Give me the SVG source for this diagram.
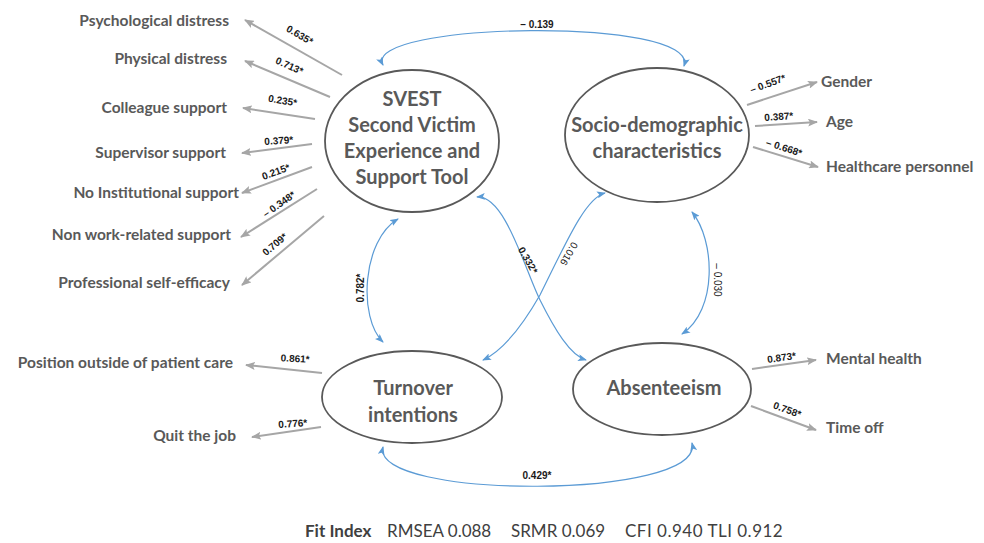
<svg xmlns="http://www.w3.org/2000/svg" width="984" height="543" viewBox="0 0 984 543">
<style>
.bg{fill:#ffffff}
.el{fill:#ffffff;stroke:#595959;stroke-width:1.8}
.nl{font-family:Lato,"Open Sans",sans-serif;font-weight:bold;font-size:20px;fill:#595959;text-anchor:middle}
.ind{font-family:Lato,"Open Sans",sans-serif;font-weight:bold;font-size:15.5px;fill:#595959}
.ld{stroke:#a6a6a6;stroke-width:2;fill:none;marker-end:url(#ga)}
.cv{stroke:#5b9bd5;stroke-width:1.2;fill:none;marker-start:url(#ba);marker-end:url(#ba)}
.num{font-family:"Liberation Sans",Arial,sans-serif;font-weight:bold;font-size:10px;fill:#1a1a1a;text-anchor:middle}
.numr{font-family:"Liberation Sans",Arial,sans-serif;font-size:10px;fill:#1a1a1a;text-anchor:middle}
.fit{font-family:Lato,"Open Sans",sans-serif;font-size:17px;fill:#404040}
</style>
<defs>
<marker id="ga" markerUnits="userSpaceOnUse" markerWidth="10" markerHeight="8" refX="9" refY="4" orient="auto">
<path d="M0,0 L10,4 L0,8 L2,4 z" fill="#a6a6a6"/>
</marker>
<marker id="ba" markerUnits="userSpaceOnUse" markerWidth="9" markerHeight="7" refX="8" refY="3.5" orient="auto-start-reverse">
<path d="M0,0 L9,3.5 L0,7 L2,3.5 z" fill="#5b9bd5"/>
</marker>
</defs>
<rect class="bg" x="0" y="0" width="984" height="543"/>

<g id="connectors">
<line class="ld" x1="342" y1="75" x2="245" y2="20"/>
<line class="ld" x1="330" y1="97" x2="245" y2="61"/>
<line class="ld" x1="315" y1="119" x2="243" y2="108"/>
<line class="ld" x1="312" y1="144" x2="242" y2="153"/>
<line class="ld" x1="312" y1="167" x2="242" y2="193"/>
<line class="ld" x1="317" y1="189" x2="241" y2="237"/>
<line class="ld" x1="324" y1="216" x2="242" y2="285"/>
<line class="ld" x1="747" y1="105" x2="817" y2="82"/>
<line class="ld" x1="755" y1="126" x2="817" y2="122"/>
<line class="ld" x1="753" y1="147" x2="818" y2="167"/>
<line class="ld" x1="752" y1="369" x2="816" y2="360"/>
<line class="ld" x1="751" y1="406" x2="816" y2="430"/>
<line class="ld" x1="322" y1="373" x2="246" y2="365"/>
<line class="ld" x1="321" y1="427" x2="252" y2="437"/>
<path class="cv" d="M383,65 C360,22 700,16 684,66"/>
<path class="cv" d="M398,219 C362,240 358,318 383,342"/>
<path class="cv" d="M477,197 C505,195 525,270 540,300 S570,355 586,360"/>
<path class="cv" d="M605,193 C585,198 565,245 540,295 C520,330 500,352 483,360"/>
<path class="cv" d="M692,212 C715,240 718,310 682,334"/>
<path class="cv" d="M383,447 C370,500 705,500 692,443"/>
<text class="num" transform="translate(298,38) rotate(30)">0.635*</text>
<text class="num" transform="translate(288,69) rotate(24)">0.713*</text>
<text class="num" transform="translate(282,104) rotate(10)">0.235*</text>
<text class="num" transform="translate(279,144) rotate(-4)">0.379*</text>
<text class="num" transform="translate(277,175) rotate(-20)">0.215*</text>
<text class="num" transform="translate(281,207) rotate(-35)">– 0.348*</text>
<text class="num" transform="translate(277,247) rotate(-40)">0.709*</text>
<text class="num" transform="translate(769,87) rotate(-20)">– 0.557*</text>
<text class="num" transform="translate(779,120) rotate(-4)">0.387*</text>
<text class="num" transform="translate(783,151) rotate(18)">– 0.668*</text>
<text class="num" transform="translate(782,361) rotate(-8)">0.873*</text>
<text class="num" transform="translate(786,413) rotate(20)">0.758*</text>
<text class="num" transform="translate(295,362) rotate(3)">0.861*</text>
<text class="num" transform="translate(293,427) rotate(-4)">0.776*</text>
<text class="num" x="537" y="28" fill="#404040">– 0.139</text>
<text class="num" transform="translate(364,288) rotate(-90)">0.782*</text>
<text class="num" transform="translate(525,262) rotate(60)">0.332*</text>
<text class="numr" transform="translate(566,252) rotate(120)">0.016</text>
<text class="numr" transform="translate(714,280) rotate(90)">– 0.030</text>
<text class="num" x="537" y="479">0.429*</text>
</g>

<g id="svest">
<ellipse class="el" cx="412" cy="141" rx="87" ry="71"/>
<text class="nl" x="412" y="106">SVEST</text>
<text class="nl" x="412" y="132">Second Victim</text>
<text class="nl" x="412" y="158">Experience and</text>
<text class="nl" x="412" y="184">Support Tool</text>
</g>
<g id="socio">
<ellipse class="el" cx="657" cy="135" rx="92" ry="67"/>
<text class="nl" x="657" y="132">Socio-demographic</text>
<text class="nl" x="657" y="158">characteristics</text>
</g>
<g id="turnover">
<ellipse class="el" cx="412" cy="397" rx="90" ry="46"/>
<text class="nl" x="413" y="395">Turnover</text>
<text class="nl" x="413" y="422">intentions</text>
</g>
<g id="absenteeism">
<ellipse class="el" cx="662" cy="389" rx="89" ry="46"/>
<text class="nl" x="664" y="395">Absenteeism</text>
</g>

<g id="indicators-svest">
<text class="ind" x="229" y="26" text-anchor="end">Psychological distress</text>
<text class="ind" x="227" y="64" text-anchor="end">Physical distress</text>
<text class="ind" x="227" y="113" text-anchor="end">Colleague support</text>
<text class="ind" x="226" y="158" text-anchor="end">Supervisor support</text>
<text class="ind" x="239" y="198" text-anchor="end">No Institutional support</text>
<text class="ind" x="231" y="240" text-anchor="end">Non work-related support</text>
<text class="ind" x="230" y="288" text-anchor="end">Professional self-efficacy</text>
</g>
<g id="indicators-socio">
<text class="ind" x="821" y="87">Gender</text>
<text class="ind" x="826" y="127">Age</text>
<text class="ind" x="826" y="172">Healthcare personnel</text>
</g>
<g id="indicators-absenteeism">
<text class="ind" x="826" y="364">Mental health</text>
<text class="ind" x="826" y="433">Time off</text>
</g>
<g id="indicators-turnover">
<text class="ind" x="233" y="368" text-anchor="end">Position outside of patient care</text>
<text class="ind" x="236" y="441" text-anchor="end">Quit the job</text>
</g>

<g id="fit">
<text class="fit" x="305" y="537" font-weight="bold">Fit Index</text>
<text class="fit" x="387" y="537">RMSEA 0.088</text>
<text class="fit" x="511" y="537">SRMR 0.069</text>
<text class="fit" x="625" y="537" letter-spacing="0.5">CFI 0.940 TLI 0.912</text>
</g>
</svg>
